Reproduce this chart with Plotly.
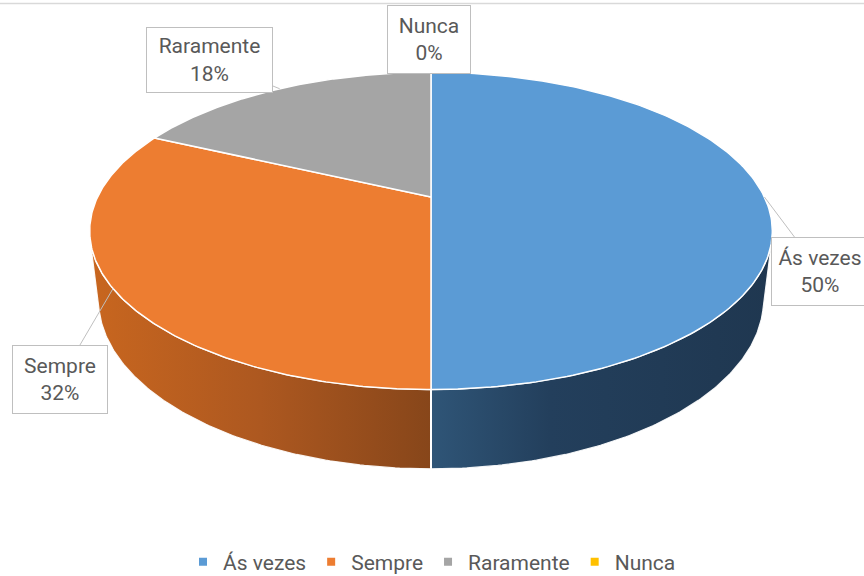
import numpy as np
import plotly.graph_objects as go

# ---- data ----
categories = ["Ás vezes", "Sempre", "Raramente", "Nunca"]
values = [50, 32, 18, 0]
pct_labels = ["50%", "32%", "18%", "0%"]

# ---- style ----
top_colors = ["#5B9BD5", "#ED7D31", "#A5A5A5", "#FFC000"]
side_scales = [
    [[0, "#2F5577"], [0.35, "#233F5C"], [1, "#1F3750"]],
    [[0, "#C8661F"], [0.5, "#AD5820"], [1, "#87461A"]],
    [[0, "#7A7A7A"], [1, "#5A5A5A"]],
    [[0, "#C09000"], [1, "#8A6A00"]],
]
FONT = "Roboto"
TXT = "#595959"

# ---- projection of a 3D pie (camera geometry) ----
CX, CY = 431.0, 197.0
F, ELEV, DIST, H = 1388.0, np.radians(27.0), 4.163, 0.233
S, C = np.sin(ELEV), np.cos(ELEV)


def proj(theta, z):
    X, Y = np.sin(theta), np.cos(theta)
    depth = DIST + Y * C - z * S
    return CX + F * X / depth, CY - F * (Y * S + z * C) / depth


def proj_center(z):
    depth = DIST - z * S
    return CX, CY - F * (z * C) / depth


total = float(sum(values))
bounds = np.concatenate([[0], np.cumsum(values)]) / total * 2 * np.pi

# visible side range (front-facing): cos(theta) < -1/(DIST*C)
lim = np.arccos(-1.0 / (DIST * C))
vis_a, vis_b = lim, 2 * np.pi - lim

fig = go.Figure()

# sides
for i, v in enumerate(values):
    if v <= 0:
        continue
    a, b = max(bounds[i], vis_a), min(bounds[i + 1], vis_b)
    if b <= a:
        continue
    t = np.linspace(a, b, 120)
    xt, yt = proj(t, 0.0)
    xb, yb = proj(t[::-1], -H)
    xs = np.concatenate([xt, xb, xt[:1]])
    ys = np.concatenate([yt, yb, yt[:1]])
    fig.add_trace(go.Scatter(
        x=xs, y=ys, mode="lines", fill="toself",
        fillcolor=top_colors[i],
        fillgradient=dict(type="horizontal", colorscale=side_scales[i]),
        line=dict(color="rgba(255,255,255,0.9)", width=1.2),
        hoverinfo="skip", showlegend=False))

# seams on the side at slice boundaries
for i in range(len(values)):
    th = bounds[i]
    if vis_a < th < vis_b:
        x0, y0 = proj(th, 0.0)
        x1, y1 = proj(th, -H)
        fig.add_trace(go.Scatter(x=[x0, x1], y=[y0, y1], mode="lines",
                                 line=dict(color="white", width=2),
                                 hoverinfo="skip", showlegend=False))

# top faces
for i, v in enumerate(values):
    if v <= 0:
        continue
    t = np.linspace(bounds[i], bounds[i + 1], 200)
    xt, yt = proj(t, 0.0)
    cx0, cy0 = proj_center(0.0)
    xs = np.concatenate([[cx0], xt, [cx0]])
    ys = np.concatenate([[cy0], yt, [cy0]])
    fig.add_trace(go.Scatter(
        x=xs, y=ys, mode="lines", fill="toself", fillcolor=top_colors[i],
        line=dict(color="white", width=1.5),
        hoverinfo="skip", showlegend=False,
        name=categories[i]))

# legend entries
for i, cat in enumerate(categories):
    fig.add_trace(go.Scatter(
        x=[None], y=[None], mode="markers", name=cat,
        marker=dict(symbol="square", size=8, color=top_colors[i])))

# data labels (callouts)
label_pos = [(820, 271), (60, 379), (209, 60), (429, 39)]
label_box = [(88, 59), (86, 59), (117, 56), (74, 59)]
for i, cat in enumerate(categories):
    mid = (bounds[i] + bounds[i + 1]) / 2
    tx, ty = proj(mid, 0.0)
    lx, ly = label_pos[i]
    w, h = label_box[i]
    common = dict(
        text=f"{cat}<br>{pct_labels[i]}",
        font=dict(family=FONT, size=21, color=TXT),
        bgcolor="white", bordercolor="#BFBFBF", borderwidth=1, borderpad=4,
        width=w, height=h, align="center", valign="middle",
        xref="x", yref="y")
    if values[i] > 0:
        fig.add_annotation(
            x=float(tx), y=float(ty), ax=lx, ay=ly, axref="x", ayref="y",
            showarrow=True, arrowhead=0, arrowwidth=1, arrowcolor="#BFBFBF",
            **common)
    else:
        fig.add_annotation(x=lx, y=ly, showarrow=False, **common)

fig.add_shape(type="line", xref="paper", yref="paper", x0=0, x1=1,
              y0=1 - 3.5 / 576, y1=1 - 3.5 / 576,
              line=dict(color="#D9D9D9", width=1.5))

fig.update_layout(
    width=864, height=576,
    margin=dict(l=0, r=0, t=0, b=0, autoexpand=False),
    paper_bgcolor="white", plot_bgcolor="white",
    xaxis=dict(range=[0, 864], visible=False, fixedrange=True),
    yaxis=dict(range=[576, 0], visible=False, fixedrange=True),
    showlegend=True,
    legend=dict(orientation="h", x=0.5, xanchor="center",
                y=(576 - 562) / 576, yanchor="middle",
                font=dict(family=FONT, size=21, color=TXT),
                itemwidth=30, bgcolor="rgba(0,0,0,0)"),
)

fig.write_html("out.html")
